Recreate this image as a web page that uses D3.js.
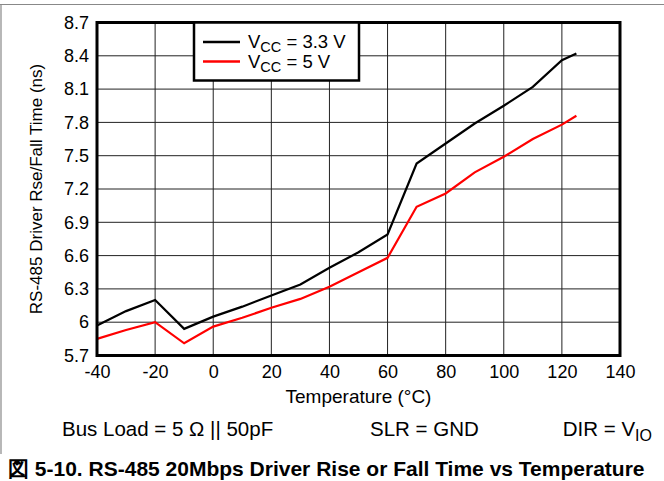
<!DOCTYPE html>
<html>
<head>
<meta charset="utf-8">
<script src="https://cdn.jsdelivr.net/npm/d3@7"></script>
<style>
  body { margin: 0; background: #fff; }
  text { font-family: "Liberation Sans", Arial, sans-serif; fill: #000; }
</style>
</head>
<body>
<svg id="chart" width="664" height="481"></svg>
<script>
// temperatures (deg C)
var temps = [-40, -30, -20, -10, 0, 10, 20, 30, 40, 50, 60, 70, 80, 90, 100, 110, 120, 125];
// rise/fall time (ns)
var vcc33 = [5.97, 6.10, 6.20, 5.94, 6.05, 6.14, 6.24, 6.34, 6.49, 6.63, 6.79, 7.43, 7.61, 7.79, 7.95, 8.12, 8.36, 8.42];
var vcc5  = [5.85, 5.93, 6.00, 5.81, 5.96, 6.04, 6.13, 6.21, 6.32, 6.45, 6.58, 7.04, 7.16, 7.35, 7.49, 7.65, 7.78, 7.86];
var xTicks = [-40, -20, 0, 20, 40, 60, 80, 100, 120, 140];
var yTicks = [5.7, 6, 6.3, 6.6, 6.9, 7.2, 7.5, 7.8, 8.1, 8.4, 8.7];

var svg = d3.select("#chart");

// outer frame
svg.append("line").attr("x1", 0).attr("x2", 664).attr("y1", 4.5).attr("y2", 4.5)
  .attr("stroke", "#888").attr("stroke-width", 1.2);
svg.append("line").attr("x1", 1).attr("x2", 1).attr("y1", 4.5).attr("y2", 454)
  .attr("stroke", "#888").attr("stroke-width", 1.2);

var pLeft = 97, pRight = 620, pTop = 22.5, pBottom = 355.5;
var x = d3.scaleLinear().domain([-40, 140]).range([pLeft, pRight]);
var y = d3.scaleLinear().domain([5.7, 8.7]).range([pBottom, pTop]);

// grid
var grid = svg.append("g");
grid.selectAll(".vg").data(xTicks).enter().append("line")
  .attr("x1", function(d) { return x(d); }).attr("x2", function(d) { return x(d); })
  .attr("y1", pTop).attr("y2", pBottom)
  .attr("stroke", "#222").attr("stroke-width", 1);
grid.selectAll(".hg").data(yTicks).enter().append("line")
  .attr("x1", pLeft).attr("x2", pRight)
  .attr("y1", function(d) { return y(d); }).attr("y2", function(d) { return y(d); })
  .attr("stroke", "#222").attr("stroke-width", 1);

// axes (labels only)
var xAxis = svg.append("g").attr("transform", "translate(0," + pBottom + ")")
  .call(d3.axisBottom(x).tickValues(xTicks).tickSize(0).tickPadding(10).tickFormat(function(d) { return String(d); }));
var yAxis = svg.append("g").attr("transform", "translate(" + pLeft + ",0)")
  .call(d3.axisLeft(y).tickValues(yTicks).tickSize(0).tickPadding(8).tickFormat(function(d) { return d === 6 ? "6" : d.toFixed(1); }));
[xAxis, yAxis].forEach(function(a) {
  a.select(".domain").remove();
  a.selectAll("text").style("font-size", "18px").style("font-family", "'Liberation Sans', Arial, sans-serif");
});

// lines
var line = d3.line()
  .x(function(d, i) { return x(temps[i]); })
  .y(function(d) { return y(d); });
svg.append("path").datum(vcc33).attr("d", line)
  .attr("fill", "none").attr("stroke", "#000").attr("stroke-width", 2.2);
svg.append("path").datum(vcc5).attr("d", line)
  .attr("fill", "none").attr("stroke", "#ff0000").attr("stroke-width", 2.2);

// plot frame
svg.append("rect").attr("x", pLeft).attr("y", pTop)
  .attr("width", pRight - pLeft).attr("height", pBottom - pTop)
  .attr("fill", "none").attr("stroke", "#000").attr("stroke-width", 3);

// legend
var lg = svg.append("g");
lg.append("rect").attr("x", 194).attr("y", pTop).attr("width", 165).attr("height", 58)
  .attr("fill", "#fff").attr("stroke", "#000").attr("stroke-width", 2.5);
var legendItems = [{ name: "3.3 V", color: "#000" }, { name: "5 V", color: "#ff0000" }];
legendItems.forEach(function(d, i) {
  var ly = 42 + i * 19.5;
  lg.append("line").attr("x1", 203).attr("x2", 240).attr("y1", ly).attr("y2", ly)
    .attr("stroke", d.color).attr("stroke-width", 2.5);
  var t = lg.append("text").attr("x", 248).attr("y", ly + 6).style("font-size", "18.5px");
  t.append("tspan").text("V");
  t.append("tspan").attr("dy", 4).style("font-size", "14.5px").text("CC");
  t.append("tspan").attr("dy", -4).text(" = " + d.name);
});

// axis titles
svg.append("text").attr("x", x(50)).attr("y", 403).attr("text-anchor", "middle")
  .style("font-size", "19px").text("Temperature (°C)");
svg.append("text").attr("transform", "translate(42," + ((pTop + pBottom) / 2) + ") rotate(-90)")
  .attr("text-anchor", "middle").style("font-size", "17px")
  .text("RS-485 Driver Rse/Fall Time (ns)");

// conditions
svg.append("text").attr("x", 62).attr("y", 436).style("font-size", "20.5px").text("Bus Load = 5 Ω || 50pF");
svg.append("text").attr("x", 370).attr("y", 436).style("font-size", "20.5px").text("SLR = GND");
var dir = svg.append("text").attr("x", 652).attr("y", 436).attr("text-anchor", "end").style("font-size", "20.5px");
dir.append("tspan").text("DIR = V");
dir.append("tspan").attr("dy", 5).style("font-size", "16px").text("IO");

// caption
svg.append("text").attr("x", 8).attr("y", 476).style("font-size", "21px").style("font-weight", "bold")
  .text("図 5-10. RS-485 20Mbps Driver Rise or Fall Time vs Temperature");
</script>
</body>
</html>
